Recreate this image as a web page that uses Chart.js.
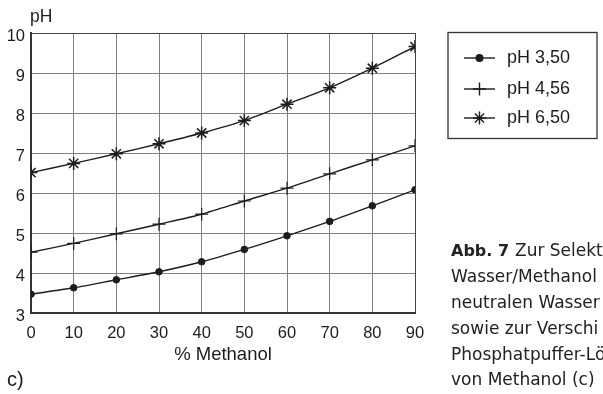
<!DOCTYPE html>
<html>
<head>
<meta charset="utf-8">
<script src="https://cdn.jsdelivr.net/npm/chart.js@4"></script>
<style>
  html, body { margin: 0; padding: 0; background: #fff; }
  canvas { display: block; }
</style>
</head>
<body>
<canvas id="chart" width="603" height="394"></canvas>
<script>
var methanol = [0, 10, 20, 30, 40, 50, 60, 70, 80, 90];
var ph350 = [3.47, 3.63, 3.83, 4.03, 4.28, 4.59, 4.93, 5.29, 5.68, 6.08];
var ph456 = [4.52, 4.74, 4.98, 5.22, 5.47, 5.80, 6.12, 6.48, 6.83, 7.18];
var ph650 = [6.51, 6.74, 6.98, 7.23, 7.50, 7.81, 8.22, 8.63, 9.12, 9.66];
var seriesNames = ["pH 3,50", "pH 4,56", "pH 6,50"];
var seriesMarks = ["circle", "cross", "star"];
var captionLines = ["Zur Selekt", "Wasser/Methanol", "neutralen Wasser", "sowie zur Verschi", "Phosphatpuffer-Lö", "von Methanol (c)"];

var INK = "#1c1c1c";
var SANS = "'Liberation Sans', Arial, sans-serif";

function pts(ys) {
  return methanol.map(function (x, i) { return { x: x, y: ys[i] }; });
}

function lineSet(label, ys, style, radius, bw) {
  return {
    label: label,
    data: pts(ys),
    borderColor: INK,
    backgroundColor: INK,
    borderWidth: 1.4,
    pointStyle: style,
    pointRadius: radius,
    pointBorderWidth: bw,
    pointBorderColor: INK,
    pointBackgroundColor: INK,
    tension: 0.25,
    fill: false
  };
}

// legend box, axis captions and figure caption
var extras = {
  id: "extras",
  afterDraw: function (chart) {
    var ctx = chart.ctx;
    ctx.save();
    ctx.fillStyle = INK;
    ctx.textBaseline = "middle";
    ctx.font = "17.5px " + SANS;
    ctx.textAlign = "left";
    ctx.fillText("pH", 30, 17);
    ctx.font = "18.5px " + SANS;
    ctx.textAlign = "center";
    ctx.fillText("% Methanol", (chart.chartArea.left + chart.chartArea.right) / 2, 355);
    ctx.textAlign = "left";
    ctx.font = "20px " + SANS;
    ctx.fillText("c)", 7, 380);

    // legend
    ctx.strokeStyle = "#333";
    ctx.lineWidth = 1.3;
    ctx.strokeRect(448, 32.5, 149, 106);
    var rows = [58, 89, 118];
    chart.data.datasets.forEach(function (ds, i) {
      var y = rows[i];
      ctx.strokeStyle = INK;
      ctx.lineWidth = 1.4;
      ctx.beginPath();
      ctx.moveTo(464, y);
      ctx.lineTo(495, y);
      ctx.stroke();
      ctx.fillStyle = INK;
      Chart.helpers.drawPoint(ctx, {
        pointStyle: ds.pointStyle,
        radius: ds.pointRadius,
        rotation: 0,
        borderWidth: ds.pointBorderWidth
      }, 479.5, y);
      ctx.fillStyle = INK;
      ctx.font = "18px " + SANS;
      ctx.textAlign = "left";
      ctx.textBaseline = "middle";
      ctx.fillText(ds.label, 507, y);
    });

    // caption
    ctx.textBaseline = "alphabetic";
    ctx.fillStyle = "#222";
    var base = [256, 282, 308, 334, 360, 385];
    ctx.font = "bold 16px 'DejaVu Sans', sans-serif";
    ctx.fillText("Abb. 7", 451, base[0]);
    ctx.font = "17px 'DejaVu Sans', sans-serif";
    captionLines.forEach(function (t, i) {
      ctx.fillText(t, i === 0 ? 515 : 451, base[i]);
    });
    ctx.restore();
  }
};

new Chart(document.getElementById("chart"), {
  type: "line",
  data: {
    datasets: [
      lineSet(seriesNames[0], ph350, seriesMarks[0], 3.3, 1),
      lineSet(seriesNames[1], ph456, seriesMarks[1], 6.5, 1.2),
      lineSet(seriesNames[2], ph650, seriesMarks[2], 6.5, 1.5)
    ]
  },
  options: {
    responsive: false,
    animation: false,
    layout: { padding: { top: 33, right: 188, left: 0, bottom: 0 } },
    plugins: { legend: { display: false }, tooltip: { enabled: false } },
    scales: {
      x: {
        type: "linear",
        min: 0,
        max: 90,
        afterFit: function (s) { s.height = 81; },
        ticks: { stepSize: 10, color: INK, padding: 11, font: { family: SANS, size: 16.5 }, maxRotation: 0 },
        grid: {
          drawTicks: false,
          color: function (c) { return c.tick && c.tick.value === 90 ? "#444" : "#808080"; },
          lineWidth: 1
        },
        border: { color: "#333", width: 2 }
      },
      y: {
        min: 3,
        max: 10,
        afterFit: function (s) { s.width = 31; },
        ticks: { stepSize: 1, color: INK, padding: 6, labelOffset: 3, font: { family: SANS, size: 16.5 } },
        grid: {
          drawTicks: false,
          color: function (c) { return c.tick && c.tick.value === 10 ? "#444" : "#808080"; },
          lineWidth: 1
        },
        border: { color: "#333", width: 2 }
      }
    }
  },
  plugins: [extras]
});
</script>
</body>
</html>
